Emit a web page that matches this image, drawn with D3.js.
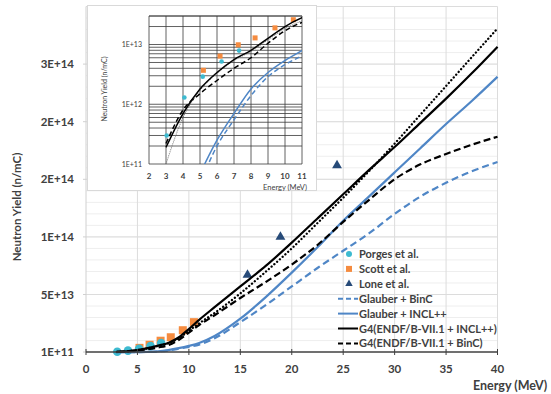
<!DOCTYPE html>
<html lang="en">

<head>
    <title>Neutron yield vs energy</title>
    <meta charset="UTF-8">
    <script src="https://d3js.org/d3.v7.min.js"></script>
    <style>
        body {
            margin: 0;
            background: #fff;
        }

        svg {
            display: block;
            font-family: Lato, 'Open Sans', sans-serif;
        }

        .tick-label {
            font-size: 11.5px;
            font-weight: bold;
            fill: #404040;
        }

        .axis-title {
            font-size: 11.5px;
            font-weight: bold;
            fill: #404040;
        }

        .legend-text {
            font-size: 11px;
            font-weight: bold;
            fill: #404040;
        }

        .inset-label {
            font-size: 7px;
            fill: #404040;
        }
    </style>
</head>

<body>
    <script>
        // energies (MeV) shared by all calculated curves
        var energies = [3, 4, 5, 6, 7, 8, 9, 10, 11, 12.5, 15, 17.5, 20, 22.5, 25, 27.5, 30, 32.5, 35, 37.5, 40];

        // calculated yields (n/mC)
        var g4Incl = [1.9e11, 7e11, 1.8e12, 3.4e12, 5.6e12, 8e12, 1.27e13, 2.0e13, 2.8e13, 3.9e13, 5.7e13, 7.5e13, 9.5e13,
            1.16e14, 1.37e14, 1.58e14, 1.78e14, 1.99e14, 2.2e14, 2.42e14, 2.65e14];
        var g4Dotted = [1.0e11, 6e11, 1.7e12, 3.3e12, 5.4e12, 7.7e12, 1.2e13, 1.85e13, 2.5e13, 3.4e13, 5.1e13, 7.0e13, 9.0e13,
            1.12e14, 1.34e14, 1.57e14, 1.81e14, 2.06e14, 2.31e14, 2.56e14, 2.81e14];
        var g4Binc = [2.2e11, 8e11, 1.5e12, 2.5e12, 4.0e12, 6.0e12, 1.05e13, 1.7e13, 2.35e13, 3.2e13, 4.7e13, 6.1e13, 7.6e13,
            9.3e13, 1.13e14, 1.32e14, 1.5e14, 1.63e14, 1.72e14, 1.8e14, 1.87e14];
        var glauberIncl = [5e9, 2e10, 7e10, 2.5e11, 7e11, 1.8e12, 3.4e12, 5.4e12, 7.9e12, 1.4e13, 2.9e13, 4.8e13, 6.9e13,
            9.1e13, 1.14e14, 1.35e14, 1.56e14, 1.77e14, 1.98e14, 2.18e14, 2.39e14];
        var glauberBinc = [4e9, 1.5e10, 5e10, 2e11, 5.5e11, 1.4e12, 2.9e12, 4.6e12, 6.5e12, 1.2e13, 2.6e13, 4.1e13, 5.7e13,
            7.3e13, 8.8e13, 1.03e14, 1.2e14, 1.35e14, 1.47e14, 1.57e14, 1.65e14];

        // measurements
        var porgesE = [3.04, 4.08, 5.16, 6.27, 7.3];
        var porgesY = [3e11, 1.3e12, 2.9e12, 5.2e12, 7.9e12];
        var scottE = [5.2, 6.18, 7.25, 8.24, 9.41, 10.49];
        var scottY = [3.7e12, 6.4e12, 9.9e12, 1.29e13, 1.9e13, 2.6e13];
        var loneE = [15.7, 18.9, 24.4];
        var loneY = [6.7e13, 1.0e14, 1.62e14];

        // axis ticks
        var xTicks = [0, 5, 10, 15, 20, 25, 30, 35, 40];
        var yTicks = [1e11, 5e13, 1e14, 1.5e14, 2e14, 2.5e14];
        var yTickLabels = ["1E+11", "5E+13", "1E+14", "2E+14", "2E+14", "3E+14"];
        var insetXTicks = [2, 3, 4, 5, 6, 7, 8, 9, 10, 11];
        var insetYTicks = [1e11, 1e12, 1e13];
        var insetYTickLabels = ["1E+11", "1E+12", "1E+13"];

        var legendLabels = ["Porges et al.", "Scott et al.", "Lone et al.", "Glauber + BinC", "Glauber + INCL++",
            "G4(ENDF/B-VII.1 + INCL++)", "G4(ENDF/B-VII.1 + BinC)"];

        var blue = "#4f86c6";
        var cyan = "#3dbad0";
        var orange = "#f58b3f";
        var navy = "#264a78";

        var curves = [
            { values: glauberBinc, color: blue, dash: "7,4", cap: "butt" },
            { values: glauberIncl, color: blue, dash: null, cap: "butt" },
            { values: g4Binc, color: "#000", dash: "7,3.5", cap: "butt" },
            { values: g4Dotted, color: "#000", dash: "0.1,3.6", cap: "round" },
            { values: g4Incl, color: "#000", dash: null, cap: "butt" }
        ];

        function draw() {
            "use strict";

            var svg = d3.select("body")
                .append("svg")
                .attr("width", 551)
                .attr("height", 394);

            // ---------- main chart ----------
            var xScale = d3.scaleLinear().domain([0, 40]).range([86, 497.5]);
            var yScale = d3.scaleLinear().domain([1e11, 3e14]).range([352, 6.5]);

            // minor horizontal grid
            var minor = d3.range(1e13, 3e14, 1e13);
            svg.selectAll(".minor-grid")
                .data(minor)
                .enter()
                .append("line")
                .attr("x1", xScale(0))
                .attr("x2", xScale(40))
                .attr("y1", function(d) { return yScale(d); })
                .attr("y2", function(d) { return yScale(d); })
                .attr("stroke", "#eeeeee")
                .attr("stroke-width", 1);

            svg.selectAll(".major-grid")
                .data(yTicks.slice(1).concat([3e14]))
                .enter()
                .append("line")
                .attr("x1", xScale(0))
                .attr("x2", xScale(40))
                .attr("y1", function(d) { return yScale(d); })
                .attr("y2", function(d) { return yScale(d); })
                .attr("stroke", "#dcdcdc");

            svg.selectAll(".v-grid")
                .data(xTicks.slice(1))
                .enter()
                .append("line")
                .attr("x1", function(d) { return xScale(d); })
                .attr("x2", function(d) { return xScale(d); })
                .attr("y1", yScale(3e14))
                .attr("y2", yScale(1e11))
                .attr("stroke", "#dcdcdc");

            // left edge
            svg.append("line")
                .attr("x1", xScale(0)).attr("x2", xScale(0))
                .attr("y1", yScale(3e14)).attr("y2", yScale(1e11))
                .attr("stroke", "#d0d0d0");

            svg.selectAll(".y-tickmark")
                .data(yTicks)
                .enter()
                .append("line")
                .attr("x1", xScale(0) - 3).attr("x2", xScale(0))
                .attr("y1", function(d) { return yScale(d); })
                .attr("y2", function(d) { return yScale(d); })
                .attr("stroke", "#d0d0d0");

            // y tick labels
            svg.selectAll(".y-label")
                .data(yTicks)
                .enter()
                .append("text")
                .attr("class", "tick-label")
                .attr("text-anchor", "end")
                .attr("x", 74)
                .attr("y", function(d) { return yScale(d) + 4; })
                .text(function(d, i) { return yTickLabels[i]; });

            // x tick labels
            svg.selectAll(".x-label")
                .data(xTicks)
                .enter()
                .append("text")
                .attr("class", "tick-label")
                .attr("text-anchor", "middle")
                .attr("x", function(d) { return xScale(d); })
                .attr("y", 373)
                .text(function(d) { return d; });

            svg.append("text")
                .attr("class", "axis-title")
                .attr("transform", "translate(21," + 207 + ") rotate(-90)")
                .attr("text-anchor", "middle")
                .text("Neutron Yield (n/mC)");

            svg.append("text")
                .attr("class", "axis-title")
                .attr("x", 473)
                .attr("y", 390)
                .style("font-size", "12.5px")
                .text("Energy (MeV)");

            // measured points (main)
            var porges = d3.zip(porgesE, porgesY);
            var scott = d3.zip(scottE, scottY);
            var lone = d3.zip(loneE, loneY);

            svg.selectAll(".m-scott")
                .data(scott)
                .enter()
                .append("rect")
                .attr("x", function(d) { return xScale(d[0]) - 4; })
                .attr("y", function(d) { return yScale(d[1]) - 4; })
                .attr("width", 8)
                .attr("height", 8)
                .attr("fill", orange);

            svg.selectAll(".m-porges")
                .data(porges)
                .enter()
                .append("circle")
                .attr("cx", function(d) { return xScale(d[0]); })
                .attr("cy", function(d) { return yScale(d[1]); })
                .attr("r", 4.3)
                .attr("fill", cyan);

            var tri = d3.symbol().type(d3.symbolTriangle).size(42);
            svg.selectAll(".m-lone")
                .data(lone)
                .enter()
                .append("path")
                .attr("d", tri)
                .attr("transform", function(d) { return "translate(" + xScale(d[0]) + "," + yScale(d[1]) + ")"; })
                .attr("fill", navy);

            // calculated curves (main)
            var mainLine = d3.line()
                .x(function(d) { return xScale(d[0]); })
                .y(function(d) { return yScale(d[1]); })
                .curve(d3.curveMonotoneX);

            curves.forEach(function(c) {
                svg.append("path")
                    .datum(d3.zip(energies, c.values))
                    .attr("d", mainLine)
                    .attr("fill", "none")
                    .attr("stroke", c.color)
                    .attr("stroke-width", c.cap === "round" ? 2.3 : 2.2)
                    .attr("stroke-dasharray", c.dash)
                    .attr("stroke-linecap", c.cap);
            });

            // x axis line + ticks
            svg.append("line")
                .attr("x1", xScale(0)).attr("x2", xScale(40))
                .attr("y1", yScale(1e11)).attr("y2", yScale(1e11))
                .attr("stroke", "#404040")
                .attr("stroke-width", 1.3);

            svg.selectAll(".x-tickmark")
                .data(xTicks)
                .enter()
                .append("line")
                .attr("x1", function(d) { return xScale(d); })
                .attr("x2", function(d) { return xScale(d); })
                .attr("y1", yScale(1e11) - 3)
                .attr("y2", yScale(1e11) + 3)
                .attr("stroke", "#404040");

            // ---------- legend ----------
            var legend = svg.append("g");
            var ly0 = 254, ldy = 14.9;
            legendLabels.forEach(function(t, i) {
                var y = ly0 + i * ldy;
                legend.append("text")
                    .attr("class", "legend-text")
                    .attr("x", 359)
                    .attr("y", y + 4)
                    .text(t);
                if (i === 0) {
                    legend.append("circle").attr("cx", 349).attr("cy", y).attr("r", 3).attr("fill", cyan);
                } else if (i === 1) {
                    legend.append("rect").attr("x", 346).attr("y", y - 3).attr("width", 6).attr("height", 6).attr("fill", orange);
                } else if (i === 2) {
                    legend.append("path").attr("d", d3.symbol().type(d3.symbolTriangle).size(24))
                        .attr("transform", "translate(349," + y + ")").attr("fill", navy);
                } else {
                    var c = [null, null, null, curves[0], curves[1], curves[4], curves[2]][i];
                    legend.append("line")
                        .attr("x1", 338).attr("x2", 358)
                        .attr("y1", y).attr("y2", y)
                        .attr("stroke", c.color)
                        .attr("stroke-width", 2)
                        .attr("stroke-dasharray", c.dash ? "5,3" : null);
                }
            });

            // ---------- inset ----------
            var inset = svg.append("g");
            inset.append("rect")
                .attr("x", 87.5).attr("y", 5.5)
                .attr("width", 229).attr("height", 185)
                .attr("fill", "#fff")
                .attr("stroke", "#d9d9d9");

            var ix = d3.scaleLinear().domain([2, 11]).range([149, 302]);
            var iy = d3.scaleLog().domain([1e11, 3e13]).range([164, 16]);

            var minorLog = [];
            [1e11, 1e12, 1e13].forEach(function(p) {
                d3.range(1, 10).forEach(function(k) {
                    if (k * p <= 3e13) minorLog.push(k * p);
                });
            });

            inset.selectAll(".ih")
                .data(minorLog.concat([3e13]))
                .enter()
                .append("line")
                .attr("x1", ix(2)).attr("x2", ix(11))
                .attr("y1", function(d) { return iy(d); })
                .attr("y2", function(d) { return iy(d); })
                .attr("stroke", "#3a3a3a")
                .attr("stroke-width", 0.8);

            inset.selectAll(".iv")
                .data(insetXTicks)
                .enter()
                .append("line")
                .attr("x1", function(d) { return ix(d); })
                .attr("x2", function(d) { return ix(d); })
                .attr("y1", iy(3e13)).attr("y2", iy(1e11))
                .attr("stroke", "#3a3a3a")
                .attr("stroke-width", 0.8);

            inset.selectAll(".ixl")
                .data(insetXTicks)
                .enter()
                .append("text")
                .attr("class", "inset-label")
                .attr("text-anchor", "middle")
                .attr("x", function(d) { return ix(d); })
                .attr("y", 179)
                .style("font-size", "8px")
                .style("font-weight", "bold")
                .text(function(d) { return d; });

            inset.selectAll(".iyl")
                .data(insetYTicks)
                .enter()
                .append("text")
                .attr("class", "inset-label")
                .attr("text-anchor", "end")
                .attr("x", 142)
                .attr("y", function(d) { return iy(d) + 2.5; })
                .text(function(d, i) { return insetYTickLabels[i]; });

            inset.append("text")
                .attr("class", "inset-label")
                .attr("text-anchor", "middle")
                .attr("transform", "translate(107,89) rotate(-90)")
                .text("Neutron Yield (n/mC)");

            inset.append("text")
                .attr("class", "inset-label")
                .attr("text-anchor", "middle")
                .attr("x", 285)
                .attr("y", 190)
                .style("font-size", "7.5px")
                .text("Energy (MeV)");

            svg.append("clipPath")
                .attr("id", "inset-clip")
                .append("rect")
                .attr("x", ix(2)).attr("y", iy(3e13))
                .attr("width", ix(11) - ix(2))
                .attr("height", iy(1e11) - iy(3e13));

            var insetPlot = inset.append("g").attr("clip-path", "url(#inset-clip)");

            insetPlot.selectAll(".i-scott")
                .data(scott)
                .enter()
                .append("rect")
                .attr("x", function(d) { return ix(d[0]) - 2.5; })
                .attr("y", function(d) { return iy(d[1]) - 2.5; })
                .attr("width", 5)
                .attr("height", 5)
                .attr("fill", orange);

            insetPlot.selectAll(".i-porges")
                .data(porges)
                .enter()
                .append("circle")
                .attr("cx", function(d) { return ix(d[0]); })
                .attr("cy", function(d) { return iy(d[1]); })
                .attr("r", 2.3)
                .attr("fill", cyan);

            var insetLine = d3.line()
                .x(function(d) { return ix(d[0]); })
                .y(function(d) { return iy(d[1]); })
                .curve(d3.curveMonotoneX);

            curves.forEach(function(c) {
                var pts = d3.zip(energies, c.values).filter(function(d) { return d[0] <= 12.5; });
                insetPlot.append("path")
                    .datum(pts)
                    .attr("d", insetLine)
                    .attr("fill", "none")
                    .attr("stroke", c.cap === "round" ? "#777" : c.color)
                    .attr("stroke-width", c.cap === "round" ? 1.1 : 1.5)
                    .attr("stroke-dasharray", c.dash ? (c.cap === "round" ? "0.1,2" : "5,3") : null)
                    .attr("stroke-linecap", c.cap);
            });
        }

        draw();
    </script>
</body>
</html>
